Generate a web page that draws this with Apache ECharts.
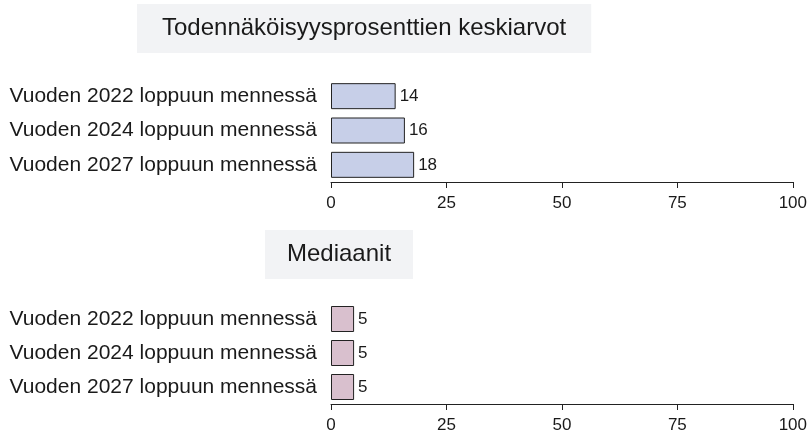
<!DOCTYPE html>
<html>
  <head>
    <meta charset="UTF-8" />
    <title>Todennäköisyysprosentit</title>
    <style>
      html, body { margin: 0; padding: 0; background: #fff; }
      #main { width: 810px; height: 434px; }
    </style>
  </head>
  <body>
    <div id="main"></div>
  </body>
  <script src="https://cdn.jsdelivr.net/npm/echarts@6/dist/echarts.min.js"></script>
  <script>
    var categories = [
      "Vuoden 2022 loppuun mennessä",
      "Vuoden 2024 loppuun mennessä",
      "Vuoden 2027 loppuun mennessä",
    ];
    var meanValues = [14, 16, 18];
    var medianValues = [5, 5, 5];
    var xTicks = [0, 25, 50, 75, 100];
    var titles = ["Todennäköisyysprosenttien keskiarvot", "Mediaanit"];

    var font = "Liberation Sans, Arial, sans-serif";
    var textColor = "#1a1a1a";

    function xAxis(idx) {
      return {
        gridIndex: idx,
        type: "value",
        min: xTicks[0],
        max: xTicks[xTicks.length - 1],
        interval: xTicks[1] - xTicks[0],
        splitLine: { show: false },
        axisLine: { show: true, lineStyle: { color: "#222", width: 1 } },
        axisTick: { show: true, length: 6, lineStyle: { color: "#222" } },
        axisLabel: {
          color: textColor,
          fontFamily: font,
          fontSize: 17,
          margin: 13,
        },
      };
    }

    function yAxis(idx) {
      return {
        gridIndex: idx,
        type: "category",
        inverse: true,
        data: categories,
        axisLine: { show: false },
        axisTick: { show: false },
        axisLabel: {
          color: textColor,
          fontFamily: font,
          fontSize: 21,
          margin: 14,
        },
      };
    }

    function barSeries(idx, values, color) {
      return {
        type: "bar",
        xAxisIndex: idx,
        yAxisIndex: idx,
        data: values,
        barWidth: 26,
        itemStyle: { color: color, borderColor: "#222", borderWidth: 1 },
        label: {
          show: true,
          position: "right",
          distance: 4,
          color: textColor,
          fontFamily: font,
          fontSize: 17,
        },
        animation: false,
      };
    }

    var myChart = echarts.init(document.getElementById("main"));
    var option = {
      backgroundColor: "#fff",
      animation: false,
      title: [
        {
          text: titles[0],
          left: 137,
          top: 4,
          padding: [12, 25],
          backgroundColor: "#f2f3f5",
          textStyle: {
            color: textColor,
            fontFamily: font,
            fontSize: 24,
            fontWeight: "normal",
            lineHeight: 25,
          },
        },
        {
          text: titles[1],
          left: 265,
          top: 230,
          padding: [12, 22],
          backgroundColor: "#f2f3f5",
          textStyle: {
            color: textColor,
            fontFamily: font,
            fontSize: 24,
            fontWeight: "normal",
            lineHeight: 25,
          },
        },
      ],
      grid: [
        { left: 331, right: 14, top: 79, height: 103 },
        { left: 331, right: 14, top: 302, height: 104 },
      ],
      xAxis: [xAxis(0), xAxis(1)],
      yAxis: [yAxis(0), yAxis(1)],
      series: [
        barSeries(0, meanValues, "#c7cfe8"),
        barSeries(1, medianValues, "#d9c0ce"),
      ],
    };
    myChart.setOption(option);
  </script>
</html>
